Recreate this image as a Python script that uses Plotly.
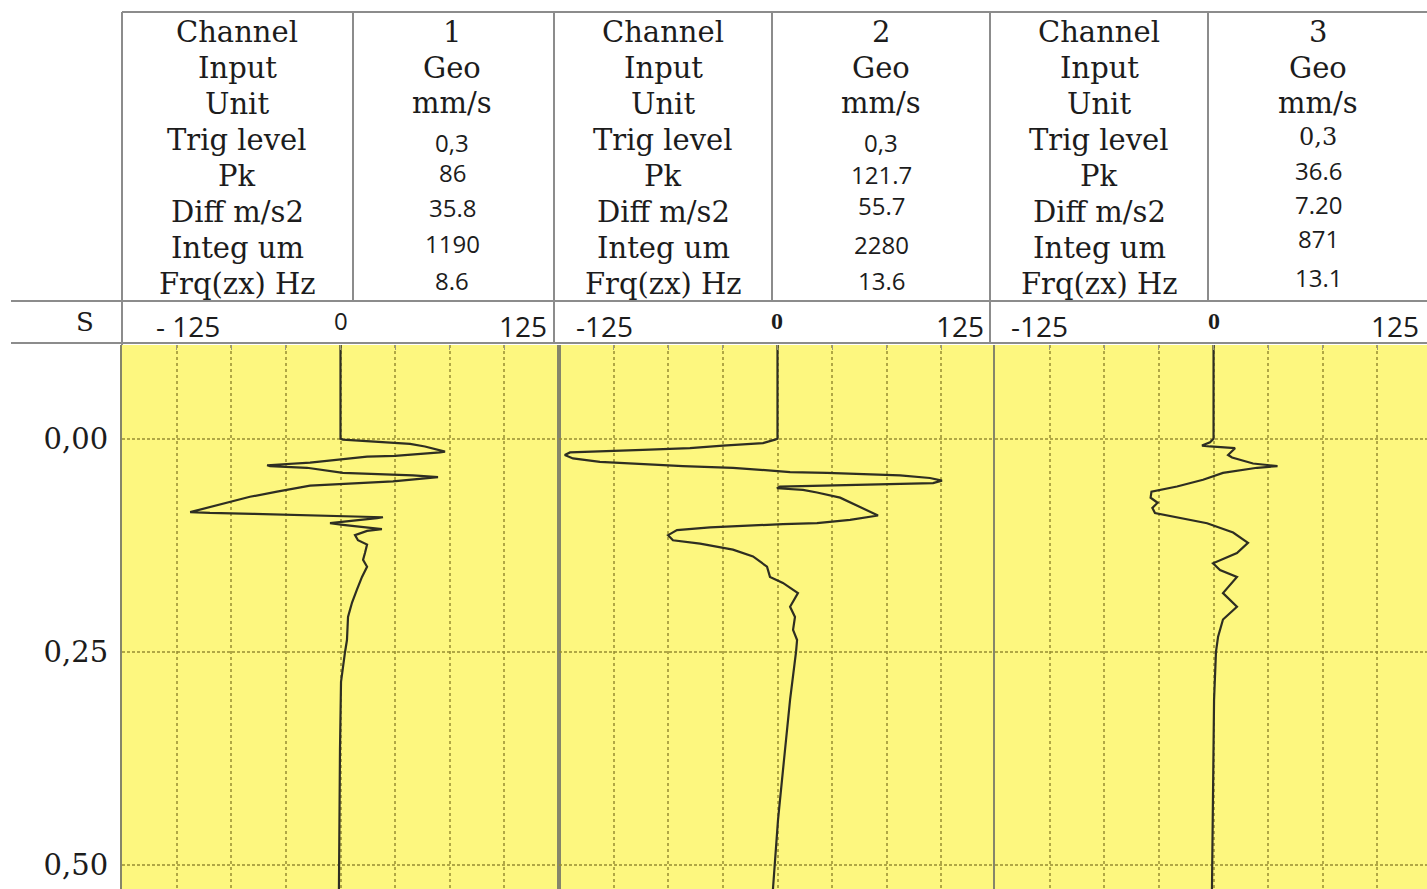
import plotly.graph_objects as go

W, H = 1427, 889

# ---- recorded waveforms: time (s) against particle velocity (mm/s) ----
ch1_t = [-0.110, 0.000, 0.001, 0.002, 0.006, 0.009, 0.015, 0.016, 0.020, 0.021,
         0.028, 0.031, 0.032, 0.034, 0.040, 0.043, 0.045, 0.050, 0.052, 0.055,
         0.062, 0.068, 0.086, 0.087, 0.088, 0.092, 0.093, 0.099, 0.101, 0.106,
         0.108, 0.113, 0.119, 0.124, 0.134, 0.142, 0.150, 0.162, 0.177, 0.192,
         0.209, 0.236, 0.250, 0.285, 0.365, 0.528]
ch1_v = [0, 0, 1.4, 9.4, 39.8, 48.3, 59.8, 56.9, 31.2, 15.2,
         -17.4, -42.0, -40.3, -19.2, 1.4, 41.5, 55.8, 30.0, 12.9, -17.4,
         -36.3, -51.8, -86.0, -74.7, -50.1, 24.3, 20.9, -6.0, 1.4, 23.7,
         15.2, 8.3, 10.0, 15.2, 14.0, 12.9, 15.2, 12.3, 9.4, 6.6,
         4.3, 3.7, 2.6, 0.3, -0.3, -0.9]

ch2_t = [-0.110, 0.000, 0.001, 0.005, 0.008, 0.011, 0.013, 0.015, 0.016, 0.019,
         0.023, 0.027, 0.032, 0.034, 0.039, 0.040, 0.043, 0.046, 0.049, 0.052,
         0.053, 0.055, 0.056, 0.058, 0.060, 0.063, 0.069, 0.080, 0.090, 0.095,
         0.099, 0.100, 0.104, 0.107, 0.113, 0.119, 0.123, 0.130, 0.138, 0.150,
         0.162, 0.169, 0.181, 0.197, 0.209, 0.224, 0.236, 0.250, 0.306, 0.377,
         0.447, 0.528]
ch2_v = [0, 0, -1.4, -8.3, -31.2, -50.1, -77.0, -103.3, -118.7, -121.7,
         -117.0, -101.6, -54.1, -25.5, 7.2, 28.3, 70.1, 87.2, 94.1, 89.0,
         70.1, 22.6, 1.4, -0.3, 14.6, 22.6, 35.8, 47.2, 57.5, 41.5,
         22.6, 3.1, -38.6, -57.5, -62.6, -59.8, -44.3, -25.5, -14.0, -6.0,
         -4.3, 3.1, 11.7, 7.2, 10.0, 8.9, 11.2, 10.6, 7.2, 3.7,
         0.3, -2.6]

ch3_t = [-0.110, 0.000, 0.004, 0.008, 0.009, 0.010, 0.011, 0.019, 0.022, 0.029,
         0.032, 0.034, 0.040, 0.048, 0.056, 0.062, 0.069, 0.075, 0.081, 0.087,
         0.092, 0.099, 0.110, 0.122, 0.134, 0.146, 0.154, 0.162, 0.181, 0.197,
         0.212, 0.232, 0.250, 0.306, 0.528]
ch3_v = [0, 0, -2.0, -6.6, -2.0, 5.4, 12.3, 8.3, 10.6, 22.6,
         36.6, 24.9, 5.4, -6.0, -20.9, -35.5, -36.0, -32.0, -35.0, -33.5,
         -20.9, -3.7, 11.2, 19.7, 13.4, -0.3, 3.7, 13.4, 5.4, 13.4,
         5.4, 2.6, 1.4, 0.3, -0.9]

# ---- header table ----
row_labels = ["Channel", "Input", "Unit", "Trig level", "Pk",
              "Diff m/s2", "Integ um", "Frq(zx) Hz"]
ch1_info = ["1", "Geo", "mm/s", "0,3", "86", "35.8", "1190", "8.6"]
ch2_info = ["2", "Geo", "mm/s", "0,3", "121.7", "55.7", "2280", "13.6"]
ch3_info = ["3", "Geo", "mm/s", "0,3", "36.6", "7.20", "871", "13.1"]

time_ticks = [0.0, 0.25, 0.50]
scale_min, scale_max = -125, 125

# ---- styling ----
YELLOW = "#fdf77f"
GRID = "rgba(150,140,50,0.75)"
TRACE = "#2e2e22"
TABLE = "#8c8c8c"
BORDER = "#85856a"
INK = "#1c1c1c"
SERIF = "DejaVu Serif"
SANS = "Open Sans"


def px(x):
    return x / W


def py(y):
    return 1 - y / H


plot_top = 345
y_dom = [0, py(plot_top)]

fig = go.Figure()
for t, v, xa, ya in [(ch1_t, ch1_v, "x", "y"), (ch2_t, ch2_v, "x2", "y2"),
                     (ch3_t, ch3_v, "x3", "y3")]:
    fig.add_trace(go.Scatter(x=v, y=t, xaxis=xa, yaxis=ya, mode="lines",
                             line=dict(color=TRACE, width=2.2),
                             hoverinfo="skip", showlegend=False))

panels = [(122, 559, [scale_min, scale_max]),
          (559, 996, [scale_min, scale_max]),
          (995, 1427, [scale_min, 122.1])]

xcommon = dict(tick0=0, dtick=31.25, showgrid=True, gridcolor=GRID,
               griddash="3px,3px", gridwidth=1.5, zeroline=False,
               showticklabels=False, ticks="inside", ticklen=5,
               tickcolor="#9a9a80", side="top", showline=False, fixedrange=True)
ycommon = dict(domain=y_dom, showgrid=True, gridcolor=GRID, griddash="3px,2px",
               gridwidth=1.5, zeroline=False, showline=True, linecolor=BORDER,
               linewidth=2, tickvals=time_ticks, fixedrange=True)

layout = dict(width=W, height=H, margin=dict(l=0, r=0, t=0, b=0),
              paper_bgcolor="white", plot_bgcolor=YELLOW, separators=",.",
              showlegend=False, hovermode=False)

for i, (x0, x1, rng) in enumerate(panels):
    sfx = "" if i == 0 else str(i + 1)
    layout["xaxis" + sfx] = dict(xcommon, domain=[px(x0), px(x1)], range=rng,
                                  anchor="y" + sfx)
    yax = dict(ycommon, anchor="x" + sfx, mirror=(i < 2))
    if i == 0:
        yax.update(range=[0.528, -0.110], tickformat=".2f", ticks="outside",
                   ticklen=6, tickcolor="rgba(0,0,0,0)",
                   tickfont=dict(family=SERIF, size=29, color=INK))
    else:
        yax.update(matches="y", showticklabels=False, ticks="")
    layout["yaxis" + sfx] = yax

fig.update_layout(**layout)

# table rules
shapes = []


def rule(x0, y0, x1, y1, color=TABLE, width=2):
    shapes.append(dict(type="line", xref="paper", yref="paper",
                       x0=px(x0), y0=py(y0), x1=px(x1), y1=py(y1),
                       line=dict(color=color, width=width)))


rule(122, 12, W, 12)
rule(11, 301, W, 301)
rule(11, 343, W, 343)
rule(122, 12, 122, 345)
rule(554, 12, 554, 343)
rule(990, 12, 990, 343)
for xm in (353, 772, 1208):
    rule(xm, 12, xm, 301)
fig.update_layout(shapes=shapes)

ann = []


def text(x, y, s, size, family=SERIF, anchor="center", color=INK):
    ann.append(dict(x=px(x), y=py(y), xref="paper", yref="paper", text=s,
                    showarrow=False, xanchor=anchor, yanchor="middle",
                    borderpad=0,
                    font=dict(family=family, size=size, color=color)))


row_y = [32, 68, 104, 140, 176, 212, 248, 284]
label_cx = [237, 663, 1099]
value_cx = [452, 881, 1318]
value_y = [[32, 68, 103, 142, 173, 207, 243, 280],
           [32, 68, 103, 142, 174, 206, 245, 280],
           [32, 68, 103, 137, 170, 204, 239, 278]]
infos = [ch1_info, ch2_info, ch3_info]

for p in range(3):
    for r, lab in enumerate(row_labels):
        text(label_cx[p], row_y[r], lab, 29)
    for r, val in enumerate(infos[p]):
        if r < 3:
            text(value_cx[p], value_y[p][r], val, 29, SERIF)
        elif p == 2 and r == 3:
            text(value_cx[p], value_y[p][r], val, 24, SERIF)
        else:
            text(value_cx[p], value_y[p][r], val, 24, SANS)

# scale row above the traces
text(85, 322, "S", 26)
text(155, 326, "- " + str(abs(scale_min)), 28, SANS, "left")
text(341, 320, "0", 24, SANS)
text(548, 326, str(scale_max), 28, SANS, "right")
text(575, 326, str(scale_min), 28, SANS, "left")
text(777, 321, "<b>0</b>", 24, "Liberation Serif")
text(985, 326, str(scale_max), 28, SANS, "right")
text(1010, 326, str(scale_min), 28, SANS, "left")
text(1214, 321, "<b>0</b>", 24, "Liberation Serif")
text(1420, 326, str(scale_max), 28, SANS, "right")

fig.update_layout(annotations=ann)
fig.write_html("out.html")
